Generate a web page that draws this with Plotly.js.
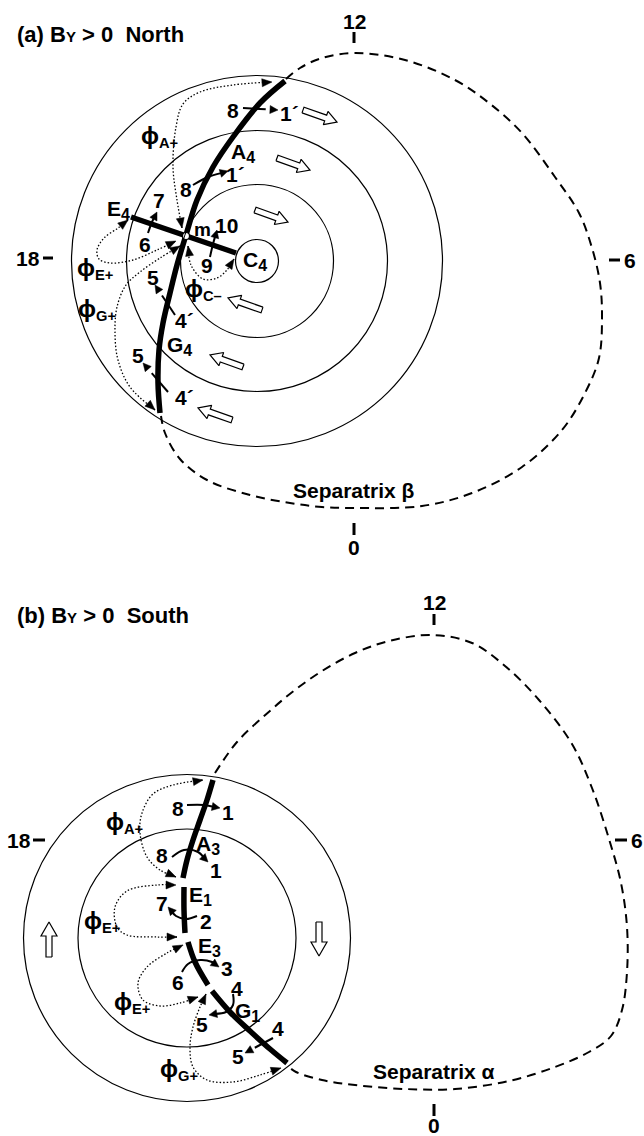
<!DOCTYPE html>
<html><head><meta charset="utf-8">
<script src="https://cdn.plot.ly/plotly-3.0.1.min.js"></script>
<style>html,body{margin:0;padding:0;background:#fff;}#c{width:644px;height:1136px;}</style>
</head><body><div id="c"></div>
<script>
// ---------------- Panel (a) By > 0 North ----------------
const aTitle = "(a) B<span style='font-size:15px'>Y</span> &gt; 0\u00A0 North";
const aCenter = [257, 261];
const aRadii = [185.5, 130.5, 76.5, 21.5];
const aClockLabels = ["12", "0", "18", "6"];
const aClockPos = [[354, 21], [354, 547], [28, 258], [630, 260]];
const aClockTicks = [[[354, 32], [354, 43]], [[354, 523], [354, 535]], [[43, 258], [53, 258]], [[609, 260], [620, 260]]];
const aSeparatrix = [[286,79],[300,68],[322,58],[355,53],[405,60],[455,80],[489,103],[522,133],[555,177],[579,213],[592,248],[600,283],[602,317],[599,358],[585,393],[562,430],[522,467],[472,493],[422,506],[355,508],[322,507],[290,503],[250,495],[207,480],[180,459],[165,433],[161,416]];
const aThick = [[285,81],[260,103],[233,137],[213,167],[197,200],[186,235],[177,265],[170,293],[163,323],[159,350],[158,383],[160,413]];
const aBar = [[131,217],[236,253]];
const aPointM = [186, 236];
const aDotted = [
  [[182,228],[177,200],[173,167],[176,127],[183,104],[200,92],[233,85],[272,82]],        // phi A+
  [[128,220],[118,228],[104,238],[97,250],[99,259],[110,263],[133,260],[157,250],[176,241]], // phi E+
  [[180,246],[160,258],[140,272],[126,285],[117,307],[115,333],[118,360],[130,387],[155,410]], // phi G+
  [[188,246],[191,265],[203,279],[217,278],[227,270],[234,259]]                          // phi C-
];
const aNumArrows = [
  [[243,108],[278,110]],
  [[193,185],[208,177],[228,171]],
  [[148,233],[152,222],[157,212]],
  [[210,257],[213,244],[217,230]],
  [[175,315],[155,285]],
  [[168,392],[143,363]]
];
const aBlockArrows = [
  [[303,110],[337,122]],
  [[277,158],[310,170]],
  [[255,210],[288,222]],
  [[262,310],[228,298]],
  [[243,367],[210,355]],
  [[232,420],[198,408]]
];
const SUB = s => "<sub><span style='font-size:16px'>" + s + "</span></sub>";
const PHI = s => "<span style='font-size:24px'>\u03D5</span><sub>" + s + "</sub>";
const aLabels = ["8","1\u00B4","A"+SUB("4"),"8","1\u00B4","E"+SUB("4"),"7","6","m","10","9","C"+SUB("4"),
  PHI("A+"),PHI("E+"),PHI("C\u2013"),PHI("G+"),"5","4\u00B4","G"+SUB("4"),"5","4\u00B4","Separatrix \u03B2"];
const aLabelPos = [[233,110],[289,113],[243,153],[186,189],[235,174],[118,210],[159,200],[145,244],[202,229],[226,225],[207,265],[255,261],
  [159,136],[95,268],[203,289],[97,309],[153,277],[184,320],[179,346],[138,355],[184,397],[354,490]];

// ---------------- Panel (b) By > 0 South ----------------
const bTitle = "(b) B<span style='font-size:15px'>Y</span> &gt; 0\u00A0 South";
const bCenter = [187, 938];
const bRadii = [163.5, 109];
const bClockLabels = ["12", "0", "18", "6"];
const bClockPos = [[434, 602], [434, 1125], [19, 840], [637, 840]];
const bClockTicks = [[[434, 614], [434, 625]], [[434, 1104], [434, 1116]], [[33, 840], [45, 840]], [[615, 840], [627, 840]]];
const bSeparatrix = [[215,773],[237,742],[267,713.5],[293,691.5],[322,671],[355,653],[389,641],[432,635],[472,643],[505,666],[539,700],[572,744],[592,788],[609,839],[621,883],[627,927],[627,972],[622,1010],[611,1036],[589,1052],[555,1067],[509,1081],[455,1089],[405,1089],[355,1085],[322,1080],[296,1072],[289,1067]];
const bThickSegments = [
  [[213,780],[207,800],[200,820],[193,840],[187,860],[183,878]],
  [[184,887],[184,910],[185,933]],
  [[188,942],[195,962],[208,985]],
  [[212,991],[230,1012],[250,1031],[270,1049],[287,1063]]
];
const bDotted = [
  [[176,877],[160,870],[147,857],[140,833],[142,813],[153,794],[173,785],[203,780]],  // phi A+
  [[177,937],[157,937],[127,935],[117,927],[115,907],[127,891],[157,885],[176,885]],  // phi E+ upper
  [[198,997],[180,1003],[160,1006],[143,1000],[138,983],[147,967],[167,953],[183,945]], // phi E+ lower
  [[206,994],[200,1007],[193,1027],[190,1047],[193,1067],[207,1080],[233,1082],[260,1075],[281,1068]] // phi G+
];
const bNumArrows = [
  [[187,805],[204,805],[220,808]],
  [[172,857],[184,850],[198,852],[208,862]],
  [[197,916],[186,919],[176,916],[168,907]],
  [[182,972],[188,964],[200,960],[212,962],[219,967]],
  [[233,994],[233,1005],[226,1012],[209,1015]],
  [[273,1038],[245,1053]]
];
const bBlockArrows = [
  [[49,957],[49,922]],
  [[319,922],[319,956]]
];
const bLabels = [PHI("A+"),"8","1","A"+SUB("3"),"8","1","E"+SUB("1"),"7","2",PHI("E+"),"E"+SUB("3"),"3","6",
  "4","5","G"+SUB("1"),"4","5",PHI("E+"),PHI("G+"),"Separatrix \u03B1"];
const bLabelPos = [[124,822],[178,808],[228,812],[208,845],[162,855],[216,870],[200,896],[162,903],[206,921],[102,921],[209,947],[227,968],[178,982],
  [237,988],[202,1024],[247,1012],[278,1028],[238,1056],[132,1002],[179,1069],[434,1071]];

// ---------------- drawing helpers ----------------
const FONT = "Liberation Sans, Arial, Helvetica, sans-serif";
const traces = [];
const shapes = [];
const annotations = [];
const xs = p => p.map(q => q[0]);
const ys = p => p.map(q => q[1]);

function lineTrace(pts, width, dash, spline) {
  traces.push({type:'scatter', mode:'lines', x:xs(pts), y:ys(pts), hoverinfo:'skip', showlegend:false,
    line:{color:'#000', width:width, dash:dash || 'solid', shape: spline ? 'spline' : 'linear', smoothing:1}});
}
const headX = [], headY = [];
function head(tip, from, len, hw) {
  const dx = tip[0]-from[0], dy = tip[1]-from[1];
  const L = Math.hypot(dx, dy), ux = dx/L, uy = dy/L, nx = -uy, ny = ux;
  const bx = tip[0]-ux*len, by = tip[1]-uy*len;
  headX.push(tip[0], bx+nx*hw, bx-nx*hw, tip[0], null);
  headY.push(tip[1], by+ny*hw, by-ny*hw, tip[1], null);
}
const blockX = [], blockY = [];
function block(tail, tip, hl, sw, hw) {
  const dx = tip[0]-tail[0], dy = tip[1]-tail[1];
  const L = Math.hypot(dx, dy), ux = dx/L, uy = dy/L, nx = -uy, ny = ux;
  const bx = tip[0]-ux*hl, by = tip[1]-uy*hl;
  const P = [[tail[0]+nx*sw, tail[1]+ny*sw],[bx+nx*sw, by+ny*sw],[bx+nx*hw, by+ny*hw],[tip[0],tip[1]],
             [bx-nx*hw, by-ny*hw],[bx-nx*sw, by-ny*sw],[tail[0]-nx*sw, tail[1]-ny*sw],[tail[0]+nx*sw, tail[1]+ny*sw]];
  P.forEach(q => {blockX.push(q[0]); blockY.push(q[1]);});
  blockX.push(null); blockY.push(null);
}
function text(t, pos, size, anchor) {
  annotations.push({x:pos[0], y:pos[1], xref:'x', yref:'y', text:t, showarrow:false,
    xanchor: anchor || 'center', yanchor:'middle', font:{family:FONT, size:size, color:'#000', weight:700}});
}
function circles(c, radii) {
  radii.forEach(r => shapes.push({type:'circle', xref:'x', yref:'y', x0:c[0]-r, x1:c[0]+r, y0:c[1]-r, y1:c[1]+r,
    line:{color:'#000', width:1.2}, fillcolor:'rgba(0,0,0,0)'}));
}
function panel(P) {
  circles(P.center, P.radii);
  lineTrace(P.sep, 2, '9px,6px', true);
  P.dotted.forEach(p => {
    lineTrace(p, 1.3, '1.5px,2px', true);
    head(p[p.length-1], p[p.length-2], 10, 4);
    head(p[0], p[1], 10, 4);
  });
  P.thick.forEach(p => lineTrace(p, 5.5, 'solid', true));
  P.num.forEach(p => {
    const a = p[p.length-1], b = p[p.length-2];
    lineTrace(p.slice(0, -1).concat([[a[0] - (a[0]-b[0])*0.35, a[1] - (a[1]-b[1])*0.35]]), 2, 'solid', true);
    head(a, b, 8, 4);
  });
  P.blocks.forEach(b => block(b[0], b[1], P.hl, 3, P.hw));
  P.ticks.forEach(t => lineTrace(t, 3, 'solid', false));
  P.clockLabels.forEach((l, i) => text(l, P.clockPos[i], 21));
  P.labels.forEach((l, i) => text(l, P.labelPos[i], l === 'm' ? 19 : 21));
  text(P.title, P.titlePos, 22, 'left');
}
panel({center:aCenter, radii:aRadii, sep:aSeparatrix, dotted:aDotted, thick:[aThick, aBar], num:aNumArrows,
  blocks:aBlockArrows, hl:12, hw:7, ticks:aClockTicks, clockLabels:aClockLabels, clockPos:aClockPos,
  labels:aLabels, labelPos:aLabelPos, title:aTitle, titlePos:[15, 34]});
panel({center:bCenter, radii:bRadii, sep:bSeparatrix, dotted:bDotted, thick:bThickSegments, num:bNumArrows,
  blocks:bBlockArrows, hl:14, hw:8, ticks:bClockTicks, clockLabels:bClockLabels, clockPos:bClockPos,
  labels:bLabels, labelPos:bLabelPos, title:bTitle, titlePos:[15, 615]});

traces.push({type:'scatter', mode:'lines', x:blockX, y:blockY, fill:'toself', fillcolor:'#fff', hoverinfo:'skip',
  showlegend:false, line:{color:'#000', width:1.2}});
traces.push({type:'scatter', mode:'lines', x:headX, y:headY, fill:'toself', fillcolor:'#000', hoverinfo:'skip',
  showlegend:false, line:{color:'#000', width:0.5}});
traces.push({type:'scatter', mode:'markers', x:[aPointM[0]], y:[aPointM[1]], hoverinfo:'skip', showlegend:false,
  marker:{symbol:'circle', size:7, color:'#fff', line:{color:'#000', width:1.2}}});

const layout = {
  width:644, height:1136, margin:{l:0, r:0, t:0, b:0}, paper_bgcolor:'#fff', plot_bgcolor:'#fff',
  xaxis:{range:[0,644], visible:false, fixedrange:true},
  yaxis:{range:[1136,0], visible:false, fixedrange:true},
  shapes:shapes, annotations:annotations, showlegend:false
};
Plotly.newPlot('c', traces, layout, {staticPlot:true, displayModeBar:false});
</script></body></html>
